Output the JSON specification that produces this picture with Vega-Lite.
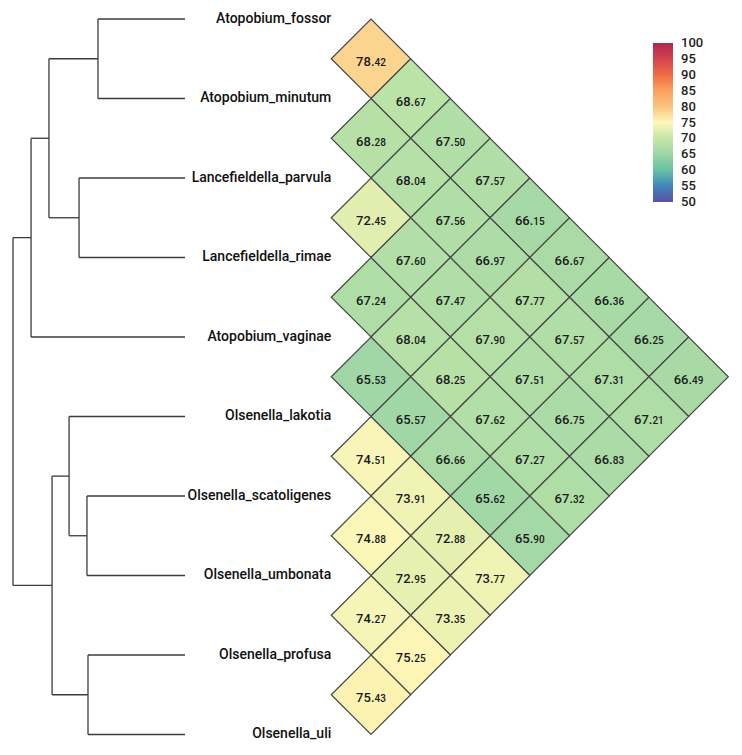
{
  "$schema": "https://vega.github.io/schema/vega-lite/v6.json",
  "width": 742,
  "height": 755,
  "autosize": {"type": "fit", "contains": "padding"},
  "padding": 0,
  "background": "white",
  "config": {"view": {"stroke": null}, "font": "Roboto"},
  "datasets": {
    "taxa": [
      {"taxon": "Atopobium_fossor", "pos": 0},
      {"taxon": "Atopobium_minutum", "pos": 1},
      {"taxon": "Lancefieldella_parvula", "pos": 2},
      {"taxon": "Lancefieldella_rimae", "pos": 3},
      {"taxon": "Atopobium_vaginae", "pos": 4},
      {"taxon": "Olsenella_lakotia", "pos": 5},
      {"taxon": "Olsenella_scatoligenes", "pos": 6},
      {"taxon": "Olsenella_umbonata", "pos": 7},
      {"taxon": "Olsenella_profusa", "pos": 8},
      {"taxon": "Olsenella_uli", "pos": 9}
    ],
    "tree": [
      {"node": "Atopobium_fossor", "h": 0, "ph": 0.506, "y": 0, "cy0": null, "cy1": null},
      {"node": "Atopobium_minutum", "h": 0, "ph": 0.506, "y": 1, "cy0": null, "cy1": null},
      {"node": "Lancefieldella_parvula", "h": 0, "ph": 0.616, "y": 2, "cy0": null, "cy1": null},
      {"node": "Lancefieldella_rimae", "h": 0, "ph": 0.616, "y": 3, "cy0": null, "cy1": null},
      {"node": "Atopobium_vaginae", "h": 0, "ph": 0.895, "y": 4, "cy0": null, "cy1": null},
      {"node": "Olsenella_lakotia", "h": 0, "ph": 0.674, "y": 5, "cy0": null, "cy1": null},
      {"node": "Olsenella_scatoligenes", "h": 0, "ph": 0.570, "y": 6, "cy0": null, "cy1": null},
      {"node": "Olsenella_umbonata", "h": 0, "ph": 0.570, "y": 7, "cy0": null, "cy1": null},
      {"node": "Olsenella_profusa", "h": 0, "ph": 0.564, "y": 8, "cy0": null, "cy1": null},
      {"node": "Olsenella_uli", "h": 0, "ph": 0.564, "y": 9, "cy0": null, "cy1": null},
      {"node": "n1", "h": 0.506, "ph": 0.791, "y": 0.5, "cy0": 0, "cy1": 1},
      {"node": "n2", "h": 0.616, "ph": 0.791, "y": 2.5, "cy0": 2, "cy1": 3},
      {"node": "n3", "h": 0.791, "ph": 0.895, "y": 1.5, "cy0": 0.5, "cy1": 2.5},
      {"node": "n4", "h": 0.895, "ph": 1.0, "y": 2.75, "cy0": 1.5, "cy1": 4},
      {"node": "n5", "h": 0.570, "ph": 0.674, "y": 6.5, "cy0": 6, "cy1": 7},
      {"node": "n6", "h": 0.674, "ph": 0.773, "y": 5.75, "cy0": 5, "cy1": 6.5},
      {"node": "n7", "h": 0.564, "ph": 0.773, "y": 8.5, "cy0": 8, "cy1": 9},
      {"node": "n8", "h": 0.773, "ph": 1.0, "y": 7.125, "cy0": 5.75, "cy1": 8.5},
      {"node": "root", "h": 1.0, "ph": null, "y": 4.9375, "cy0": 2.75, "cy1": 7.125}
    ],
    "ani": [
      {"i": 0, "j": 1, "v": 78.42},
      {"i": 0, "j": 2, "v": 68.67},
      {"i": 1, "j": 2, "v": 68.28},
      {"i": 0, "j": 3, "v": 67.50},
      {"i": 1, "j": 3, "v": 68.04},
      {"i": 0, "j": 4, "v": 67.57},
      {"i": 2, "j": 3, "v": 72.45},
      {"i": 1, "j": 4, "v": 67.56},
      {"i": 0, "j": 5, "v": 66.15},
      {"i": 2, "j": 4, "v": 67.60},
      {"i": 1, "j": 5, "v": 66.97},
      {"i": 0, "j": 6, "v": 66.67},
      {"i": 3, "j": 4, "v": 67.24},
      {"i": 2, "j": 5, "v": 67.47},
      {"i": 1, "j": 6, "v": 67.77},
      {"i": 0, "j": 7, "v": 66.36},
      {"i": 3, "j": 5, "v": 68.04},
      {"i": 2, "j": 6, "v": 67.90},
      {"i": 1, "j": 7, "v": 67.57},
      {"i": 0, "j": 8, "v": 66.25},
      {"i": 4, "j": 5, "v": 65.53},
      {"i": 3, "j": 6, "v": 68.25},
      {"i": 2, "j": 7, "v": 67.51},
      {"i": 1, "j": 8, "v": 67.31},
      {"i": 0, "j": 9, "v": 66.49},
      {"i": 4, "j": 6, "v": 65.57},
      {"i": 3, "j": 7, "v": 67.62},
      {"i": 2, "j": 8, "v": 66.75},
      {"i": 1, "j": 9, "v": 67.21},
      {"i": 5, "j": 6, "v": 74.51},
      {"i": 4, "j": 7, "v": 66.66},
      {"i": 3, "j": 8, "v": 67.27},
      {"i": 2, "j": 9, "v": 66.83},
      {"i": 5, "j": 7, "v": 73.91},
      {"i": 4, "j": 8, "v": 65.62},
      {"i": 3, "j": 9, "v": 67.32},
      {"i": 6, "j": 7, "v": 74.88},
      {"i": 5, "j": 8, "v": 72.88},
      {"i": 4, "j": 9, "v": 65.90},
      {"i": 6, "j": 8, "v": 72.95},
      {"i": 5, "j": 9, "v": 73.77},
      {"i": 7, "j": 8, "v": 74.27},
      {"i": 6, "j": 9, "v": 73.35},
      {"i": 7, "j": 9, "v": 75.25},
      {"i": 8, "j": 9, "v": 75.43}
    ]
  },
  "resolve": {"scale": {"x": "independent"}},
  "layer": [
    {
      "data": {"name": "tree"},
      "transform": [{"filter": "datum.ph != null"}],
      "mark": {"type": "rule", "color": "#3c3c3c", "strokeWidth": 1.3},
      "encoding": {
        "x": {"field": "h", "type": "quantitative", "axis": null,
              "scale": {"domain": [-3.2384, 1.0756], "reverse": true, "nice": false, "zero": false}},
        "x2": {"field": "ph"},
        "y": {"field": "y", "type": "quantitative", "axis": null,
              "scale": {"domain": [-0.239, 9.258], "reverse": true, "nice": false, "zero": false}}
      }
    },
    {
      "data": {"name": "tree"},
      "transform": [{"filter": "datum.cy0 != null"}],
      "mark": {"type": "rule", "color": "#3c3c3c", "strokeWidth": 1.3},
      "encoding": {
        "x": {"field": "h", "type": "quantitative", "axis": null,
              "scale": {"domain": [-3.2384, 1.0756], "reverse": true, "nice": false, "zero": false}},
        "y": {"field": "cy0", "type": "quantitative", "axis": null,
              "scale": {"domain": [-0.239, 9.258], "reverse": true, "nice": false, "zero": false}},
        "y2": {"field": "cy1"}
      }
    },
    {
      "data": {"name": "taxa"},
      "mark": {"type": "text", "align": "right", "baseline": "middle", "font": "Roboto", "fontSize": 14, "fontWeight": 500, "color": "#111111"},
      "encoding": {
        "x": {"datum": 0, "type": "quantitative", "axis": null,
              "scale": {"domain": [-8.345, 10.345], "nice": false, "zero": false}},
        "y": {"field": "pos", "type": "quantitative", "axis": null,
              "scale": {"domain": [-0.239, 9.258], "reverse": true, "nice": false, "zero": false}},
        "text": {"field": "taxon"}
      }
    },
    {
      "data": {"name": "ani"},
      "transform": [
        {"calculate": "datum.j - datum.i", "as": "k"},
        {"calculate": "(datum.i + datum.j) / 2", "as": "m"}
      ],
      "mark": {"type": "point", "shape": "diamond", "size": 6320, "filled": true, "opacity": 1, "stroke": "#474747", "strokeWidth": 1.2},
      "encoding": {
        "x": {"field": "k", "type": "quantitative", "axis": null,
              "scale": {"domain": [-8.345, 10.345], "nice": false, "zero": false}},
        "y": {"field": "m", "type": "quantitative", "axis": null,
              "scale": {"domain": [-0.239, 9.258], "reverse": true, "nice": false, "zero": false}},
        "color": {
          "field": "v", "type": "quantitative",
          "scale": {
            "domain": [49.9, 55, 60, 65, 70, 75, 80, 85, 90, 95, 100.1],
            "range": ["#5e4fa2", "#3f87bc", "#66c2a5", "#9dd5a6", "#c6e6a8", "#fcf7b9", "#fcc480", "#fba15e", "#f16d45", "#d5434f", "#b0284e"]
          },
          "legend": {
            "orient": "none", "legendX": 653, "legendY": 43, "title": null,
            "direction": "vertical", "gradientLength": 159, "gradientThickness": 20,
            "values": [50, 55, 60, 65, 70, 75, 80, 85, 90, 95, 100],
            "labelFont": "Roboto", "labelFontSize": 13, "labelFontWeight": 500, "labelColor": "#222222",
            "labelOffset": 8, "labelOverlap": false, "labelBaseline": "middle",
            "gradientStrokeWidth": 0, "padding": 0
          }
        }
      }
    },
    {
      "data": {"name": "ani"},
      "transform": [
        {"calculate": "datum.j - datum.i", "as": "k"},
        {"calculate": "(datum.i + datum.j) / 2", "as": "m"},
        {"calculate": "substring(format(datum.v, '.2f'), 0, 3)", "as": "lead"}
      ],
      "mark": {"type": "text", "align": "right", "baseline": "alphabetic", "dx": 3.5, "dy": 7.5, "font": "Roboto", "fontSize": 13, "fontWeight": 500, "color": "#1a1a1a"},
      "encoding": {
        "x": {"field": "k", "type": "quantitative", "axis": null,
              "scale": {"domain": [-8.345, 10.345], "nice": false, "zero": false}},
        "y": {"field": "m", "type": "quantitative", "axis": null,
              "scale": {"domain": [-0.239, 9.258], "reverse": true, "nice": false, "zero": false}},
        "text": {"field": "lead"}
      }
    },
    {
      "data": {"name": "ani"},
      "transform": [
        {"calculate": "datum.j - datum.i", "as": "k"},
        {"calculate": "(datum.i + datum.j) / 2", "as": "m"},
        {"calculate": "substring(format(datum.v, '.2f'), 3, 5)", "as": "tail"}
      ],
      "mark": {"type": "text", "align": "left", "baseline": "alphabetic", "dx": 3.5, "dy": 7.5, "font": "Roboto", "fontSize": 10, "fontWeight": 500, "color": "#1a1a1a"},
      "encoding": {
        "x": {"field": "k", "type": "quantitative", "axis": null,
              "scale": {"domain": [-8.345, 10.345], "nice": false, "zero": false}},
        "y": {"field": "m", "type": "quantitative", "axis": null,
              "scale": {"domain": [-0.239, 9.258], "reverse": true, "nice": false, "zero": false}},
        "text": {"field": "tail"}
      }
    }
  ]
}
